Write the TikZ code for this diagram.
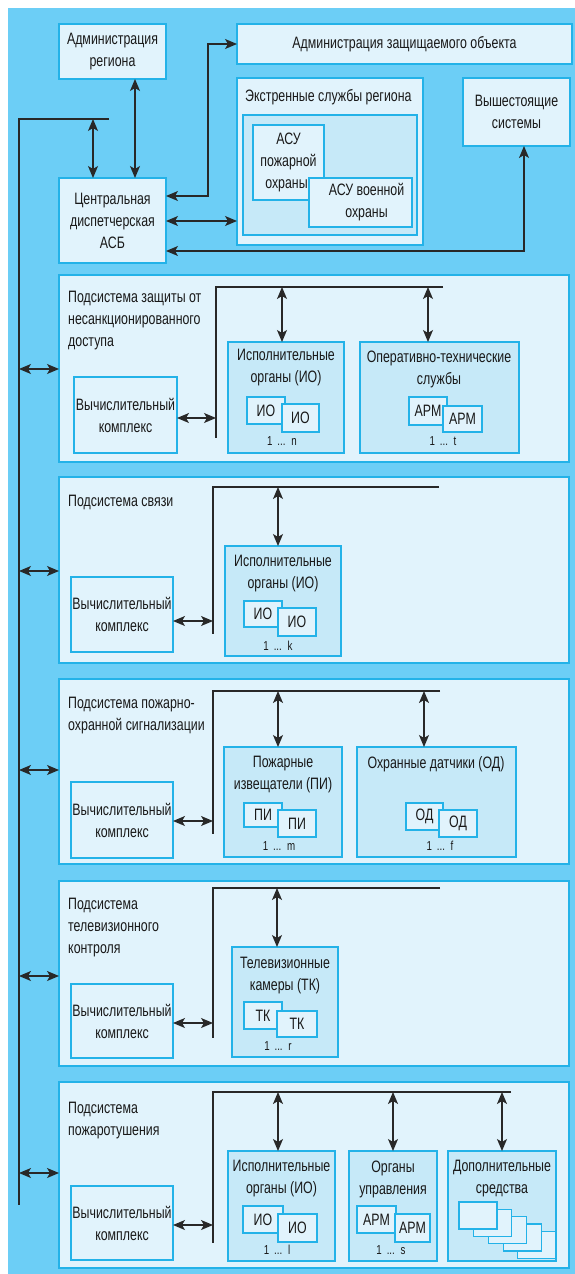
\documentclass[tikz,border=0pt]{standalone}
\usepackage{fontspec}
\setmainfont[FakeStretch=0.75]{Liberation Sans}
\usetikzlibrary{arrows.meta,calc}
\definecolor{bgblue}{RGB}{108,206,246}
\definecolor{boxfill}{RGB}{225,243,252}
\definecolor{innerfill}{RGB}{198,233,248}
\definecolor{bord}{RGB}{35,178,232}
\definecolor{ln}{RGB}{40,40,40}
\definecolor{tx}{RGB}{25,25,25}
\tikzset{
  box/.style={draw=bord, line width=1.4pt, fill=boxfill, inner sep=0pt, outer sep=0pt, anchor=north west, rectangle,
    font=\fontsize{16.5}{22}\selectfont, align=center, text=tx},
  inbox/.style={box, fill=innerfill},
  sbox/.style={box, line width=1.2pt},
  txt/.style={font=\fontsize{16.5}{22}\selectfont, align=center, inner sep=0pt, text=tx},
  ttl/.style={txt, align=left, anchor=west},
  cnt/.style={font=\fontsize{13}{14}\selectfont, inner sep=0pt, text=tx},
  wire/.style={draw=ln, line width=1.2pt},
  tip/.tip={Stealth[length=12pt,width=10pt,inset=3pt]},
  dbl/.style={wire, tip-tip},
}
\newcommand\mybx[7][box]{\node[#1, minimum width={(#5-#3)*1pt}, minimum height={(#6-#4)*1pt}] (#2) at (#3,#4) {#7};}
\begin{document}
\begin{tikzpicture}[x=1pt,y=-1pt]
\useasboundingbox (0,0) rectangle (575,1274);
\fill[white] (0,0) rectangle (575,1274);
\fill[bgblue] (8,8) rectangle (575,1274);

% ---------- top part ----------
\mybx{admR}{59}{24}{166}{79}{Администрация\\региона}
\mybx{admO}{237}{24}{572}{64}{Администрация защищаемого объекта}
\mybx{cd}{59}{178}{166}{263}{Центральная\\диспетчерская\\АСБ}
\mybx{ext}{237}{78}{423}{245}{}
\node[ttl] (extT) at (245,97) {Экстренные службы региона};
\mybx[inbox]{extIn}{243}{115}{417}{235}{}
\mybx{asuP}{253}{125}{324}{200}{АСУ\\пожарной\\охраны\hspace*{4pt}}
\mybx{asuV}{309}{178}{412}{227}{\hspace*{12pt}АСУ военной\\\hspace*{12pt}охраны}
\mybx{vysh}{463}{78}{570}{146}{Вышестоящие\\системы}

\coordinate (mTop) at (19,119);
\coordinate (mTopE) at (109,119);
\coordinate (mBot) at (19,1205);
\draw[wire] (mTopE) -- (mTop) -- (mBot);
\coordinate (m93) at (93,119);
\draw[dbl] (m93) -- (m93 |- cd.north);
\coordinate (c135) at (135,0);
\draw[dbl] (admR.south -| c135) -- (cd.north -| c135);
\coordinate (j208) at (208,196);
\draw[dbl] (cd.east |- j208) -- (j208) -- (j208 |- admO.west) -- (admO.west);
\coordinate (c221) at (0,221);
\draw[dbl] (cd.east |- c221) -- (ext.west |- c221);
\coordinate (c251) at (524,251);
\draw[dbl] (cd.east |- c251) -- (c251) -- (c251 |- vysh.south);

% ---------- subsystem 1 ----------
\mybx{s1}{59}{275}{569}{462}{}
\node[ttl] (s1t) at (68,321) {Подсистема защиты от\\несанкционированного\\доступа};
\mybx{vk1}{74}{377}{177}{453}{Вычислительный\\комплекс}
\mybx[inbox]{io1}{228}{342}{344}{453}{}
\node[txt] (io1t) at (286,368) {Исполнительные\\органы (ИО)};
\mybx[sbox]{io1a}{247}{397}{285}{424}{ИО}
\mybx[sbox]{io1b}{282}{404}{319}{432}{ИО}
\node[cnt] (io1n) at (282,441) {1 \,...\, n};
\mybx[inbox]{ot1}{360}{342}{519}{453}{}
\node[txt] (ot1t) at (439,369) {Оперативно-технические\\службы};
\mybx[sbox]{ot1a}{409}{397}{447}{425}{АРМ}
\mybx[sbox]{ot1b}{443}{406}{482}{432}{АРМ}
\node[cnt] (ot1n) at (443,441) {1 \,...\, t};
\coordinate (b1) at (216,287); \coordinate (b1e) at (443,287); \coordinate (b1d) at (216,438);
\draw[wire] (b1e) -- (b1) -- (b1d);
\coordinate (k1) at (0,418);
\draw[dbl] (vk1.east |- k1) -- (b1 |- k1);
\coordinate (a11) at (282,287); \draw[dbl] (a11) -- (a11 |- io1.north);
\coordinate (a12) at (428,287); \draw[dbl] (a12) -- (a12 |- ot1.north);
\coordinate (L1) at (19,369); \draw[dbl] (L1) -- (L1 -| s1.west);

% ---------- subsystem 2 ----------
\mybx{s2}{59}{477}{569}{663}{}
\node[ttl] (s2t) at (68,502) {Подсистема связи};
\mybx{vk2}{71}{577}{173}{652}{Вычислительный\\комплекс}
\mybx[inbox]{io2}{225}{546}{341}{656}{}
\node[txt] (io2t) at (283,573.5) {Исполнительные\\органы (ИО)};
\mybx[sbox]{io2a}{244}{601}{282}{627}{ИО}
\mybx[sbox]{io2b}{278}{608}{316}{636}{ИО}
\node[cnt] (io2n) at (278,646) {1 \,...\, k};
\coordinate (b2) at (213,487); \coordinate (b2e) at (439,487); \coordinate (b2d) at (213,634);
\draw[wire] (b2e) -- (b2) -- (b2d);
\coordinate (k2) at (0,621);
\draw[dbl] (vk2.east |- k2) -- (b2 |- k2);
\coordinate (a21) at (278,487); \draw[dbl] (a21) -- (a21 |- io2.north);
\coordinate (L2) at (19,571); \draw[dbl] (L2) -- (L2 -| s2.west);

% ---------- subsystem 3 ----------
\mybx{s3}{59}{679}{569}{864}{}
\node[ttl] (s3t) at (68,716) {Подсистема пожарно-\\охранной сигнализации};
\mybx{vk3}{71}{782}{173}{858}{Вычислительный\\комплекс}
\mybx[inbox]{pi3}{224}{747}{342}{857}{}
\node[txt] (pi3t) at (283,775) {Пожарные\\извещатели (ПИ)};
\mybx[sbox]{pi3a}{244}{803}{282}{827}{ПИ}
\mybx[sbox]{pi3b}{278}{810}{316}{837}{ПИ}
\node[cnt] (pi3n) at (279,846) {1 \,...\, m};
\mybx[inbox]{od3}{357}{747}{516}{857}{}
\node[txt] (od3t) at (436,764) {Охранные датчики (ОД)};
\mybx[sbox]{od3a}{406}{803}{443}{830}{ОД}
\mybx[sbox]{od3b}{439}{810}{477}{837}{ОД}
\node[cnt] (od3n) at (440,846) {1 \,...\, f};
\coordinate (b3) at (213,691); \coordinate (b3e) at (440,691); \coordinate (b3d) at (213,834);
\draw[wire] (b3e) -- (b3) -- (b3d);
\coordinate (k3) at (0,821);
\draw[dbl] (vk3.east |- k3) -- (b3 |- k3);
\coordinate (a31) at (278,691); \draw[dbl] (a31) -- (a31 |- pi3.north);
\coordinate (a32) at (424,691); \draw[dbl] (a32) -- (a32 |- od3.north);
\coordinate (L3) at (19,770); \draw[dbl] (L3) -- (L3 -| s3.west);

% ---------- subsystem 4 ----------
\mybx{s4}{59}{881}{569}{1066}{}
\node[ttl] (s4t) at (68,927.5) {Подсистема\\телевизионного\\контроля};
\mybx{vk4}{71}{984}{173}{1058}{Вычислительный\\комплекс}
\mybx[inbox]{tk4}{232}{947}{338}{1057}{}
\node[txt] (tk4t) at (285,975.5) {Телевизионные\\камеры (ТК)};
\mybx[sbox]{tk4a}{244}{1002}{282}{1029}{ТК}
\mybx[sbox]{tk4b}{277}{1011}{317}{1037}{ТК}
\node[cnt] (tk4n) at (278,1046) {1 \,...\, r};
\coordinate (b4) at (213,888); \coordinate (b4e) at (440,888); \coordinate (b4d) at (213,1038);
\draw[wire] (b4e) -- (b4) -- (b4d);
\coordinate (k4) at (0,1023);
\draw[dbl] (vk4.east |- k4) -- (b4 |- k4);
\coordinate (a41) at (277,888); \draw[dbl] (a41) -- (a41 |- tk4.north);
\coordinate (L4) at (19,976); \draw[dbl] (L4) -- (L4 -| s4.west);

% ---------- subsystem 5 ----------
\mybx{s5}{59}{1082}{569}{1268}{}
\node[ttl] (s5t) at (68,1120.5) {Подсистема\\пожаротушения};
\mybx{vk5}{71}{1186}{173}{1260}{Вычислительный\\комплекс}
\mybx[inbox]{io5}{228}{1151}{335}{1261}{}
\node[txt] (io5t) at (281.5,1179) {Исполнительные\\органы (ИО)};
\mybx[sbox]{io5a}{243}{1206}{283}{1233}{ИО}
\mybx[sbox]{io5b}{278}{1214}{317}{1242}{ИО}
\node[cnt] (io5n) at (277,1250) {1 \,...\, l};
\mybx[inbox]{ou5}{349}{1151}{437}{1261}{}
\node[txt] (ou5t) at (393,1179) {Органы\\управления};
\mybx[sbox]{ou5a}{357}{1206}{396}{1233}{АРМ}
\mybx[sbox]{ou5b}{395}{1214}{430}{1242}{АРМ}
\node[cnt] (ou5n) at (391,1250) {1 \,...\, s};
\mybx[inbox]{ds5}{448}{1151}{556}{1261}{}
\node[txt] (ds5t) at (502,1179) {Дополнительные\\средства};
\mybx[sbox]{ds5e}{517.8}{1231.2}{555.8}{1258.2}{}
\mybx[sbox]{ds5d}{503.1}{1223.9}{541.1}{1250.9}{}
\mybx[sbox]{ds5c}{488.4}{1216.6}{526.4}{1243.6}{}
\mybx[sbox]{ds5b}{473.7}{1209.3}{511.7}{1236.3}{}
\mybx[sbox]{ds5a}{459}{1202}{497}{1229}{}
\coordinate (b5) at (213,1092); \coordinate (b5e) at (511,1092); \coordinate (b5d) at (213,1243);
\draw[wire] (b5e) -- (b5) -- (b5d);
\coordinate (k5) at (0,1225);
\draw[dbl] (vk5.east |- k5) -- (b5 |- k5);
\coordinate (a51) at (278,1092); \draw[dbl] (a51) -- (a51 |- io5.north);
\coordinate (a52) at (393,1092); \draw[dbl] (a52) -- (a52 |- ou5.north);
\coordinate (a53) at (502,1092); \draw[dbl] (a53) -- (a53 |- ds5.north);
\coordinate (L5) at (19,1173); \draw[dbl] (L5) -- (L5 -| s5.west);
\end{tikzpicture}
\end{document}
